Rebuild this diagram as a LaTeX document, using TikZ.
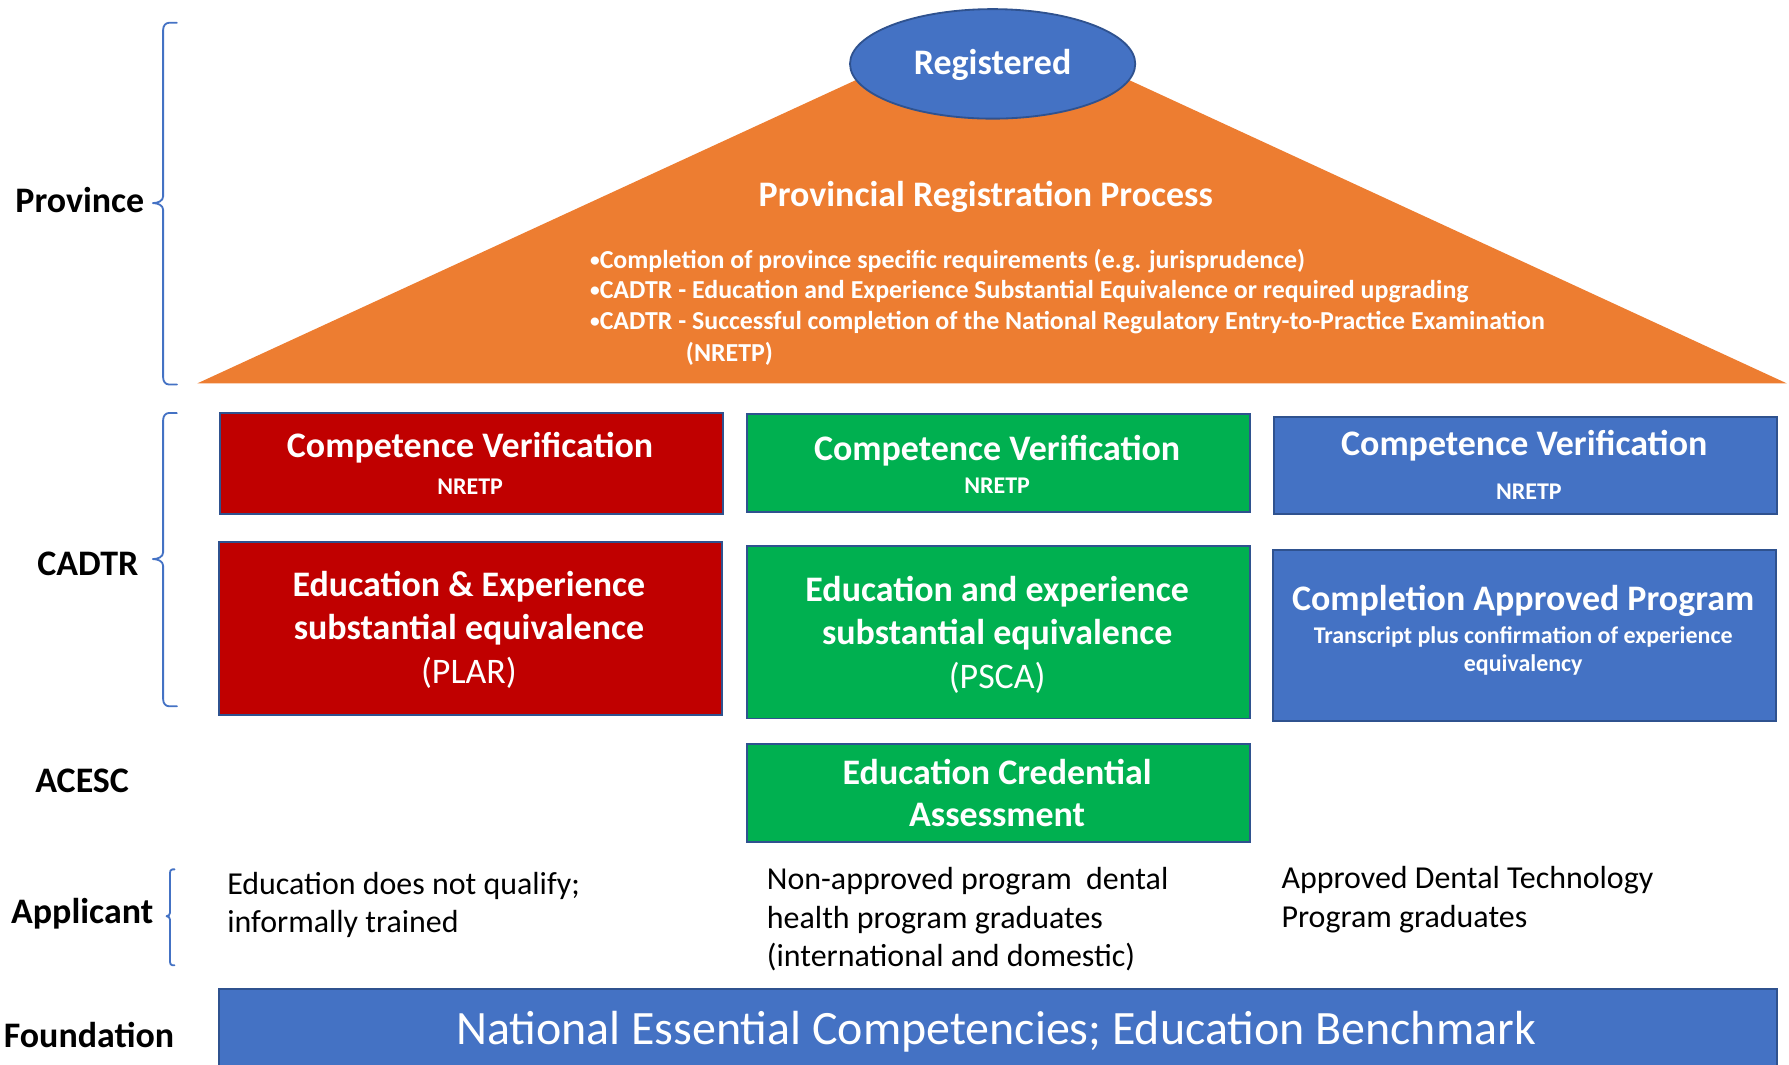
\documentclass[tikz,border=0pt]{standalone}
\usepackage{fontspec}
\setmainfont{Carlito}
\usetikzlibrary{shapes.geometric}

\definecolor{regblue}{HTML}{4472C4}
\definecolor{edgeblue}{HTML}{2F528F}
\definecolor{regorange}{HTML}{ED7D31}
\definecolor{regred}{HTML}{C00000}
\definecolor{reggreen}{HTML}{00B050}

% small bullet used in the requirement list
\newcommand\listdot{\raisebox{2pt}{\fontsize{17}{17}\selectfont•}}

\tikzset{
  box/.style={draw=edgeblue, line width=1.6pt, inner sep=0pt, anchor=north west},
  bigwhite/.style={text=white, inner sep=0pt, font=\bfseries\fontsize{31.5}{38}\selectfont},
  plainwhite/.style={text=white, inner sep=0pt, font=\fontsize{31.5}{38}\selectfont},
  smallwhite/.style={text=white, inner sep=0pt, font=\bfseries\fontsize{21}{26}\selectfont},
  bullet/.style={text=white, inner sep=0pt, anchor=west, font=\bfseries\fontsize{22.7}{27}\selectfont},
  tier/.style={inner sep=0pt, font=\bfseries\fontsize{31.5}{37}\selectfont},
  applicant/.style={inner sep=0pt, anchor=base west, font=\fontsize{28}{33.5}\selectfont},
  bracket/.style={draw=regblue, line width=1.6pt, line cap=round, line join=round},
}

\begin{document}
\begin{tikzpicture}[x=1pt, y=-1pt]
\useasboundingbox (0,0) rectangle (1568,933);
\clip (0,0) rectangle (1568,933);

% tier labels on the left
\node[tier] (lprov) at (70,175) {Province};
\node[tier] (lcadtr) at (77,494) {CADTR};
\node[tier] (lacesc) at (72,684) {ACESC};
\node[tier] (lapp) at (72,801) {Applicant};
\node[tier] (lfound) at (78,907) {Foundation};

% brackets grouping the tiers
\draw[bracket] (155,20) -- (148,20) to[out=180,in=90] (143,26) -- (143,172)
  to[out=-90,in=0] (134,178) to[out=0,in=90] (143,184) -- (143,331)
  to[out=-90,in=180] (148,337) -- (155,337);
\draw[bracket] (155,362) -- (148,362) to[out=180,in=90] (143,368) -- (143,484)
  to[out=-90,in=0] (134,490) to[out=0,in=90] (143,496) -- (143,613)
  to[out=-90,in=180] (148,619) -- (155,619);
\draw[bracket] (153,762) -- (151,762) to[out=180,in=90] (149,765) -- (149,800)
  to[out=-90,in=0] (146,803) to[out=0,in=90] (149,806) -- (149,843)
  to[out=-90,in=180] (151,846) -- (153,846);

% provincial registration triangle
\fill[regorange] (173,336) -- (870,15) -- (1566,336) -- cycle;
\node[ellipse, draw=edgeblue, line width=1.6pt, fill=regblue, inner sep=0pt,
  minimum width=250pt, minimum height=96pt] (reg) at (870,56) {};
\node[bigwhite] (regt) at (870,57) {Registered};
\node[bigwhite] (prp) at (864,173) {Provincial Registration Process};
\node[bullet] (b1) at (517,229) {\listdot Completion of province specific requirements (e.g. jurisprudence)};
\node[bullet] (b2) at (517,256) {\listdot CADTR - Education and Experience Substantial Equivalence or required upgrading};
\node[bullet] (b3) at (517,283) {\listdot CADTR - Successful completion of the National Regulatory Entry-to-Practice Examination};
\node[bullet] (b4) at (601,310) {(NRETP)};

% left column: informally trained
\node[box, fill=regred, minimum width=441pt, minimum height=89pt] (cvR) at (192,361) {};
\node[bigwhite] (cvRt) at (412,392) {Competence Verification};
\node[smallwhite] (cvRs) at (412,427) {NRETP};
\node[box, fill=regred, minimum width=441pt, minimum height=152pt] (eeR) at (191,474) {};
\node[bigwhite] (eeR1) at (411,514) {Education \& Experience};
\node[bigwhite] (eeR2) at (411,552) {substantial equivalence};
\node[plainwhite] (eeR3) at (411,590) {(PLAR)};

% middle column: non-approved programs
\node[box, fill=reggreen, minimum width=441pt, minimum height=86pt] (cvG) at (654,362) {};
\node[bigwhite] (cvGt) at (874,395) {Competence Verification};
\node[smallwhite] (cvGs) at (874,426) {NRETP};
\node[box, fill=reggreen, minimum width=441pt, minimum height=151pt] (eeG) at (654,478) {};
\node[bigwhite] (eeG1) at (874,519) {Education and experience};
\node[bigwhite] (eeG2) at (874,556) {substantial equivalence};
\node[plainwhite] (eeG3) at (874,594) {(PSCA)};
\node[box, fill=reggreen, minimum width=441pt, minimum height=86pt] (eca) at (654,651) {};
\node[bigwhite] (eca1) at (874,677) {Education Credential};
\node[bigwhite] (eca2) at (874,714) {Assessment};

% right column: approved programs
\node[box, fill=regblue, minimum width=441pt, minimum height=85pt] (cvB) at (1116,365) {};
\node[bigwhite] (cvBt) at (1336,391) {Competence Verification};
\node[smallwhite] (cvBs) at (1340,431) {NRETP};
\node[box, fill=regblue, minimum width=441pt, minimum height=150pt] (cap) at (1115,481) {};
\node[bigwhite] (cap1) at (1335,527) {Completion Approved Program};
\node[smallwhite] (cap2) at (1335,558) {Transcript plus confirmation of experience};
\node[smallwhite] (cap3) at (1335,583) {equivalency};

% applicant descriptions
\node[applicant] (appR1) at (199,784) {Education does not qualify;};
\node[applicant] (appR2) at (199,817) {informally trained};
\node[applicant] (appG1) at (672,780) {Non-approved program\ \ dental};
\node[applicant] (appG2) at (672,814) {health program graduates};
\node[applicant] (appG3) at (672,847) {(international and domestic)};
\node[applicant] (appB1) at (1123,779) {Approved Dental Technology};
\node[applicant] (appB2) at (1123,813) {Program graduates};

% foundation bar
\node[box, fill=regblue, minimum width=1366pt, minimum height=90pt] (found) at (191,866) {};
\node[plainwhite, font=\fontsize{42}{50}\selectfont] (foundt) at (873,904) {National Essential Competencies; Education Benchmark};
\end{tikzpicture}
\end{document}
